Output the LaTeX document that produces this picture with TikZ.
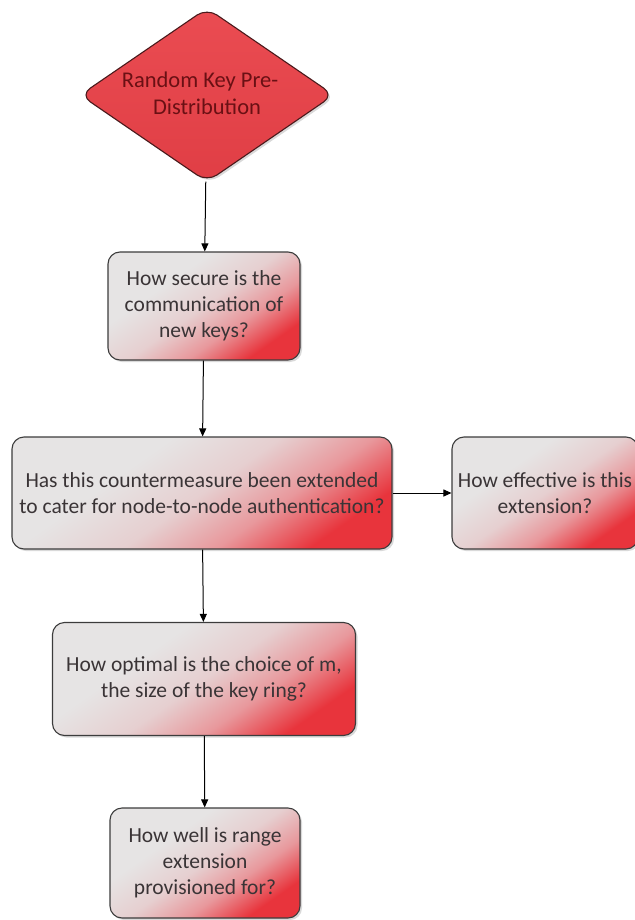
\documentclass[tikz,border=0pt]{standalone}
\usepackage{fontspec}
\setmainfont{Carlito}
\usetikzlibrary{shapes.geometric,arrows.meta,shadows}

\definecolor{boxgray}{HTML}{E6E4E4}
\definecolor{boxlight}{HTML}{E6CFD0}
\definecolor{boxpink}{HTML}{E8989C}
\definecolor{boxred}{HTML}{E8343C}
\definecolor{diafill}{HTML}{EA4C52}
\definecolor{diadark}{HTML}{E03E45}
\definecolor{diaedge}{HTML}{4A1A1C}
\definecolor{diatext}{HTML}{6A1014}
\definecolor{boxtext}{HTML}{3A3436}
\definecolor{edgecol}{HTML}{3C3C3C}

% light grey at the top left, red towards the bottom right
\pgfdeclareverticalshading{questionshade}{100bp}{%
  color(0bp)=(boxred); color(26bp)=(boxred); color(38bp)=(boxpink);
  color(50bp)=(boxlight); color(64bp)=(boxgray); color(100bp)=(boxgray)}

\tikzset{
  question/.style={draw=edgecol, line width=1.1pt, rounded corners=12pt,
    shading=questionshade, shading angle=35,
    drop shadow={shadow xshift=2pt, shadow yshift=-2pt, opacity=0.3},
    align=center, text=boxtext, inner sep=0pt,
    font=\fontsize{21.5}{26}\selectfont},
  startdia/.style={diamond, draw=diaedge, line width=1.1pt,
    rounded corners=12pt, top color=diafill, bottom color=diadark,
    drop shadow={shadow xshift=2pt, shadow yshift=-2pt, opacity=0.3},
    inner sep=0pt},
  diatextstyle/.style={align=center, text=diatext, inner sep=0pt,
    font=\fontsize{22.5}{27}\selectfont},
  flow/.style={-{Triangle[length=8pt,width=7pt]}, line width=1pt, draw=black}
}

\begin{document}
\begin{tikzpicture}[x=1pt, y=-1pt]
  \useasboundingbox (0,0) rectangle (634,920);

  % the start diamond keeps its own size; its caption sits on its centre
  \node[startdia, minimum width=254pt, minimum height=174pt,
    label={[diatextstyle, yshift=2pt]center:{Random Key Pre-\kern14pt\\Distribution}}]
    (start) at (207,95) {};

  \node[question, minimum width=192pt, minimum height=108pt] (secure) at (204,306)
    {How secure is the\\communication of\\new keys?};

  \node[question, minimum width=380pt, minimum height=112pt] (extended) at (202,493)
    {Has this countermeasure been extended\\to cater for node-to-node authentication?};

  \node[question, minimum width=186pt, minimum height=112pt] (effective) at (545,493)
    {How effective is this\\extension?};

  \node[question, minimum width=303pt, minimum height=113pt] (optimal) at (204,679)
    {How optimal is the choice of m,\\the size of the key ring?};

  \node[question, minimum width=190pt, minimum height=110pt] (range) at (205,863)
    {How well is range\\extension\\provisioned for?};

  \draw[flow] (start) -- (secure);
  \draw[flow] (secure) -- (extended);
  \draw[flow] (extended) -- (effective);
  \draw[flow] (extended) -- (optimal);
  \draw[flow] (optimal) -- (range);
\end{tikzpicture}
\end{document}
